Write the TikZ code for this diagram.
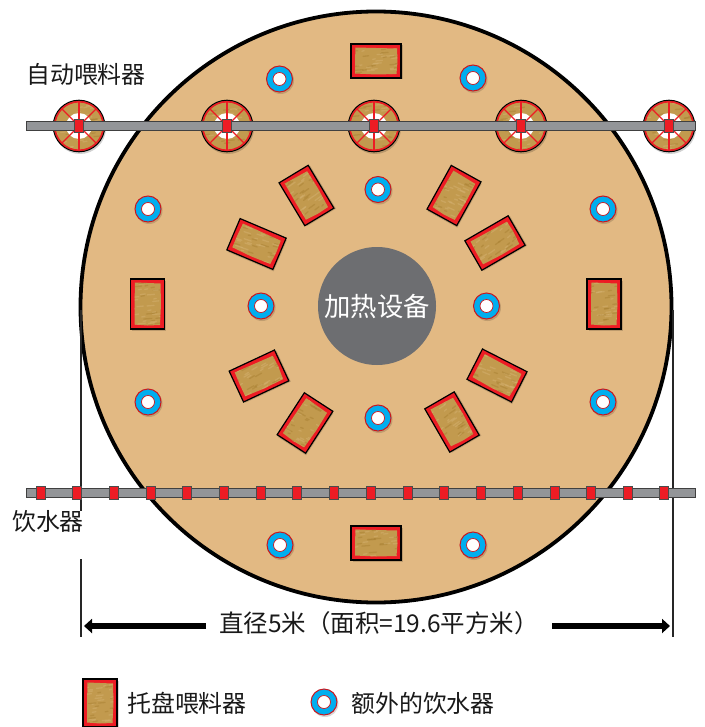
\documentclass[tikz,border=0pt]{standalone}
\usepackage{fontspec}
\setmainfont{Noto Sans CJK SC}
\usetikzlibrary{arrows.meta}
\definecolor{barn}{HTML}{E2B983}
\definecolor{hay}{HTML}{C29A4E}
\definecolor{hayl}{HTML}{D6B475}
\definecolor{hayd}{HTML}{A67E30}
\definecolor{rd}{HTML}{ED1C24}
\definecolor{bargray}{HTML}{939598}
\definecolor{heater}{HTML}{6D6E71}
\definecolor{wblue}{HTML}{00AEEF}
\tikzset{
  x=1bp,y=1bp,
  label text/.style={font=\fontsize{24}{26}\selectfont,text=black!90,inner sep=0pt},
  bar line/.style={draw=black!75,fill=bargray,line width=1.1bp,minimum width=669bp,minimum height=9bp,inner sep=0pt},
  small red/.style={draw=black!70,fill=rd,line width=0.9bp,minimum width=8.5bp,minimum height=12.5bp,inner sep=0pt},
  dim line/.style={draw=black!85,line width=1.1bp},
  dim arrow/.style={draw=black,line width=5.5bp,-{Triangle[length=8bp,width=14bp]}},
  drink outer/.style={circle,draw=rd!85!black,fill=wblue,line width=1bp,minimum size=26bp,inner sep=0pt},
  drink inner/.style={circle,fill=white,draw=rd!85!black,line width=0.7bp,minimum size=13bp,inner sep=0pt},
}
\newcommand{\haytex}[2]{%
  \foreach \k in {1,...,45}{%
    \pgfmathsetmacro{\tx}{(rnd-0.5)*#1}%
    \pgfmathsetmacro{\ty}{(rnd-0.5)*#2}%
    \pgfmathsetmacro{\tl}{1+rnd*3}%
    \pgfmathparse{rnd>0.45?"hayl":"hayd"}%
    \edef\tc{\pgfmathresult}%
    \draw[\tc,line width=1.3bp,opacity=.45,line cap=round] (\tx-\tl,\ty) -- (\tx+\tl,\ty+0.6);
  }%
}
\newcommand{\traybox}[5]{% x, y(px), width, height, rotation
  \begin{scope}[shift={(#1,-#2)},rotate=#5]
    \fill[black,opacity=.16] ({-#3/2+1.5},{-#4/2-1.5}) rectangle ({#3/2+1.5},{#4/2-1.5});
    \fill[rd] ({-#3/2},{-#4/2}) rectangle ({#3/2},{#4/2});
    \begin{scope}
      \clip ({-#3/2+4},{-#4/2+4.5}) -- (0,{-#4/2+3.5}) -- ({#3/2-4.5},{-#4/2+4}) -- ({#3/2-3.5},0) -- ({#3/2-4},{#4/2-4.5}) -- (0,{#4/2-4}) -- ({-#3/2+4.5},{#4/2-3.5}) -- ({-#3/2+4},0) -- cycle;
      \fill[hay] ({-#3/2},{-#4/2}) rectangle ({#3/2},{#4/2});
      \haytex{#3}{#4}
    \end{scope}
    \draw[black,line width=1.2bp] ({-#3/2},{-#4/2}) rectangle ({#3/2},{#4/2});
  \end{scope}
}
\newcommand{\feeder}[2]{% x, y(px)
  \begin{scope}[shift={(#1,-#2)}]
    \fill[black,opacity=.18] (1,-2) circle (26);
    \fill[hay] (0,0) circle (25.5);
    \begin{scope}
      \clip (0,0) circle (25);
      \haytex{50}{50}
    \end{scope}
    \fill[white] (0,0) circle (13);
    \foreach \a in {0,45,...,315} \draw[rd,line width=1.3bp] (0,0) -- (\a:25);
    \draw[rd,line width=1.8bp] (0,0) circle (24.4);
    \draw[black,line width=1bp] (0,0) circle (25.8);
  \end{scope}
}
\newcommand{\drinker}[3]{% name, x, y(px)
  \fill[black,opacity=.15] (#2+1,-#3-1.5) circle (13.5);
  \node[drink outer] (#1) at (#2,-#3) {};
  \node[drink inner] at (#1) {};
}
\begin{document}
\begin{tikzpicture}
\useasboundingbox (0,0) rectangle (705,-727);
\pgfmathsetseed{4217}
% barn
\node[circle,draw=black,fill=barn,line width=3.8bp,minimum size=591bp,inner sep=0pt] (barn) at (376,-307) {};
% heater
\node[circle,fill=heater,minimum size=118bp,inner sep=0pt,text=white,font=\fontsize{26.5}{28}\selectfont] (heat) at (377,-306) {加热设备};
% dimension lines
\coordinate (dl1) at (81,-310);
\coordinate (dl2) at (81,-511);
\coordinate (dl3) at (81,-559);
\coordinate (dl4) at (81,-637);
\coordinate (dr1) at (673,-310);
\coordinate (dr2) at (673,-637);
\draw[dim line] (dl1) -- (dl2);
\draw[dim line] (dl3) -- (dl4);
\draw[dim line] (dr1) -- (dr2);
% trays
\traybox{376}{61}{50}{34}{0}
\traybox{376}{543}{50}{34}{0}
\traybox{147.5}{304}{34}{50}{0}
\traybox{604}{304}{34}{50}{0}
\traybox{306.5}{195.5}{34}{50}{31}
\traybox{256.5}{244}{50}{34}{-23}
\traybox{454}{195.5}{34}{50}{-29}
\traybox{495}{243}{50}{34}{30}
\traybox{259}{376}{50}{34}{25}
\traybox{305}{423}{34}{50}{-33}
\traybox{497}{375.5}{50}{34}{-27}
\traybox{452}{422}{34}{50}{30}
% drinkers
\drinker{d1}{279.5}{79}
\drinker{d2}{473}{78}
\drinker{d3}{378}{189.5}
\drinker{d4}{148}{209}
\drinker{d5}{603}{209}
\drinker{d6}{261}{306}
\drinker{d7}{486.5}{306}
\drinker{d8}{148}{402}
\drinker{d9}{603}{402}
\drinker{d10}{378}{418}
\drinker{d11}{280}{545}
\drinker{d12}{473}{545}
% feeders
\foreach \x in {79,227,374,521,669} \feeder{\x}{126}
\node[bar line] (feedbar) at (361,-126) {};
\foreach \x/\n in {79/a,227/b,374/c,521/e,669/f}
  \node[small red] (f\n) at (\x,-126) {};
% water line
\node[bar line] (waterbar) at (361,-493) {};
\foreach \x [count=\i] in {41,77,114,151,187,224,261,297,334,371,408,444,481,518,555,591,628,664}
  \node[small red] (w\i) at (\x,-493) {};
% labels
\node[label text] (lfeed) at (86,-74) {自动喂料器};
\node[label text] (lwater) at (48,-521) {饮水器};
\node[label text,font=\fontsize{24.6}{26}\selectfont] (dim) at (379,-623) {直径5米（面积=19.6平方米）};
\coordinate (al1) at (206,-626);
\coordinate (al2) at (84,-626);
\coordinate (ar1) at (552,-626);
\coordinate (ar2) at (670,-626);
\draw[dim arrow] (al1) -- (al2);
\draw[dim arrow] (ar1) -- (ar2);
% legend
\traybox{100}{703}{34}{48}{0}
\node[label text] (ltray) at (187,-703) {托盘喂料器};
\drinker{dleg}{324}{702}
\node[label text] (lwat) at (423,-703) {额外的饮水器};
\end{tikzpicture}
\end{document}
